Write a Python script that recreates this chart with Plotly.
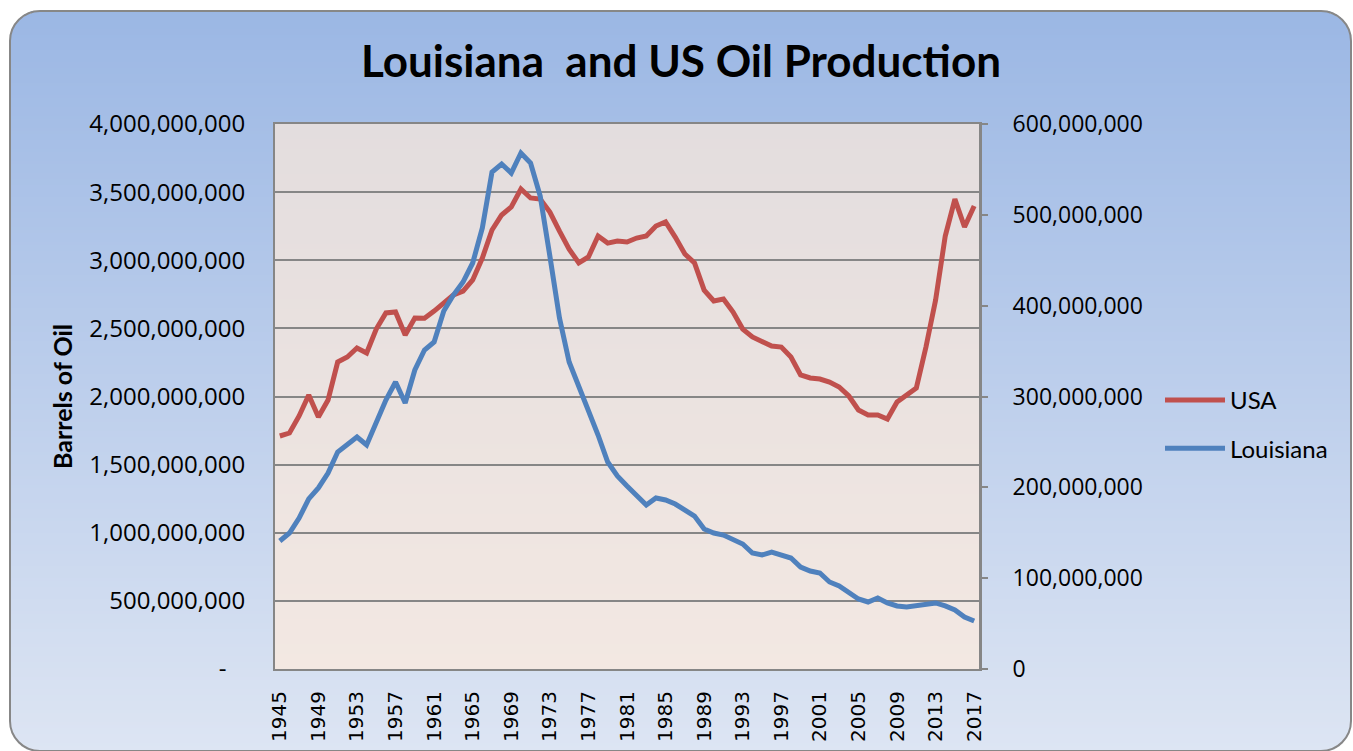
import plotly.graph_objects as go

# ---------------- data ----------------
years = list(range(1945, 2018))

usa_million_bbl = [
    1710, 1732, 1857, 2011, 1849, 1974, 2253, 2290, 2356, 2319,
    2495, 2613, 2620, 2451, 2576, 2575, 2627, 2686, 2745, 2774,
    2855, 3016, 3222, 3332, 3391, 3523, 3457, 3449, 3354, 3214,
    3082, 2980, 3024, 3178, 3126, 3141, 3134, 3163, 3178, 3251,
    3281, 3170, 3046, 2980, 2781, 2701, 2715, 2620, 2495, 2437,
    2400, 2370, 2363, 2290, 2158, 2136, 2128, 2106, 2070, 2004,
    1901, 1864, 1864, 1835, 1960, 2011, 2062, 2363, 2708, 3178,
    3449, 3244, 3398,
]

louisiana_million_bbl = [
    140.9, 149.7, 166.2, 187.2, 199.3, 215.8, 238.9, 247.7, 255.4, 246.6,
    271.9, 296.1, 316.0, 292.8, 329.2, 351.2, 360.0, 394.1, 411.7, 426.0,
    447.0, 485.5, 547.1, 556.0, 546.0, 568.1, 557.1, 520.7, 454.7, 386.4,
    338.0, 311.6, 284.0, 257.6, 227.9, 212.5, 201.5, 190.5, 180.5, 188.3,
    186.1, 181.6, 175.0, 168.4, 154.1, 149.7, 147.5, 143.1, 137.6, 127.7,
    125.5, 128.8, 125.5, 122.2, 112.3, 107.9, 105.7, 95.8, 91.4, 84.8,
    77.1, 73.8, 78.2, 72.7, 69.4, 68.3, 69.4, 71.6, 72.7, 69.4,
    65.0, 57.2, 52.8,
]

usa = [v * 1e6 for v in usa_million_bbl]
louisiana = [v * 1e6 for v in louisiana_million_bbl]

x_tick_years = list(range(1945, 2018, 4))

left_tickvals = [0, 5e8, 1e9, 1.5e9, 2e9, 2.5e9, 3e9, 3.5e9, 4e9]
left_ticktext = ["-\u00a0\u00a0\u00a0", "500,000,000", "1,000,000,000", "1,500,000,000",
                 "2,000,000,000", "2,500,000,000", "3,000,000,000",
                 "3,500,000,000", "4,000,000,000"]
right_tickvals = [0, 1e8, 2e8, 3e8, 4e8, 5e8, 6e8]
right_ticktext = ["0", "100,000,000", "200,000,000", "300,000,000",
                  "400,000,000", "500,000,000", "600,000,000"]

# ---------------- geometry / style ----------------
W, H = 1353, 751
L, R, T, B = 275, 374, 124, 82
PW, PH = W - L - R, H - T - B


def px(x):
    return (x - L) / PW


def py(y):
    return (H - B - y) / PH


def lerp(c1, c2, t):
    return "rgb(%d,%d,%d)" % tuple(round(a + (b - a) * t) for a, b in zip(c1, c2))


shapes = []

# chart-area gradient with rounded corners
bx0, bx1, by0, by1, rad = 10, 1351, 11, 751, 30
top_c, bot_c = (155, 183, 228), (221, 229, 243)
step = 3
y = by0
while y < by1:
    y2 = min(y + step, by1)
    ym = (y + y2) / 2
    inset = 0
    if ym < by0 + rad:
        d = by0 + rad - ym
        inset = rad - (rad ** 2 - d ** 2) ** 0.5
    elif ym > by1 - rad:
        d = ym - (by1 - rad)
        inset = rad - (rad ** 2 - d ** 2) ** 0.5
    t = (ym - by0) / (by1 - by0)
    shapes.append(dict(type="rect", xref="paper", yref="paper", layer="below",
                       x0=px(bx0 + inset), x1=px(bx1 - inset), y0=py(y), y1=py(y2 + 0.6),
                       fillcolor=lerp(top_c, bot_c, t), line=dict(width=0)))
    y = y2

# plot-area gradient
ptop, pbot = (227, 221, 222), (243, 232, 226)
y = T
while y < H - B:
    y2 = min(y + 5, H - B)
    t = ((y + y2) / 2 - T) / PH
    shapes.append(dict(type="rect", xref="paper", yref="paper", layer="below",
                       x0=0, x1=1, y0=py(y), y1=py(y2 + 0.6),
                       fillcolor=lerp(ptop, pbot, t), line=dict(width=0)))
    y = y2

# rounded outline
k = 0.45
path = (
    f"M {px(bx0 + rad)},{py(by0)} L {px(bx1 - rad)},{py(by0)} "
    f"C {px(bx1 - rad * k)},{py(by0)} {px(bx1)},{py(by0 + rad * k)} {px(bx1)},{py(by0 + rad)} "
    f"L {px(bx1)},{py(by1 - rad)} "
    f"C {px(bx1)},{py(by1 - rad * k)} {px(bx1 - rad * k)},{py(by1)} {px(bx1 - rad)},{py(by1)} "
    f"L {px(bx0 + rad)},{py(by1)} "
    f"C {px(bx0 + rad * k)},{py(by1)} {px(bx0)},{py(by1 - rad * k)} {px(bx0)},{py(by1 - rad)} "
    f"L {px(bx0)},{py(by0 + rad)} "
    f"C {px(bx0)},{py(by0 + rad * k)} {px(bx0 + rad * k)},{py(by0)} {px(bx0 + rad)},{py(by0)} Z"
)
shapes.append(dict(type="path", xref="paper", yref="paper", layer="above", path=path,
                   line=dict(color="rgb(135,135,135)", width=2)))

CAL = "Lato, 'Open Sans', sans-serif"
TICKF = "'Open Sans', 'Noto Sans', sans-serif"
GRAY = "rgb(134,134,134)"

fig = go.Figure()
fig.add_trace(go.Scatter(x=years, y=usa, name="USA", mode="lines",
                         line=dict(color="#C0504D", width=5), yaxis="y",
                         legendgroup="a"))
fig.add_trace(go.Scatter(x=years, y=louisiana, name="Louisiana", mode="lines",
                         line=dict(color="#4F81BD", width=5), yaxis="y2",
                         legendgroup="b"))

fig.update_layout(
    width=W, height=H,
    margin=dict(l=L, r=R, t=T, b=B, pad=0, autoexpand=False),
    paper_bgcolor="white",
    plot_bgcolor="rgba(0,0,0,0)",
    shapes=shapes,
    title=dict(text="<b>Louisiana  and US Oil Produc\u200ction</b>", xref="container",
               x=681 / W, xanchor="center",
               y=1 - 62 / H, yanchor="middle",
               font=dict(family=CAL, size=44, color="black")),
    xaxis=dict(range=[1944.5, 2017.5], tickvals=x_tick_years, tickangle=-90,
               tickfont=dict(family="DejaVu Sans", size=20, color="black"),
               showgrid=False, zeroline=False, showline=True, linecolor=GRAY,
               linewidth=2, mirror=True, ticks="", ticklabelstandoff=12,
               automargin=False),
    yaxis=dict(range=[0, 4e9], tickvals=left_tickvals, ticktext=left_ticktext,
               tickfont=dict(family=TICKF, size=24, color="black"),
               showgrid=True, gridcolor=GRAY, gridwidth=2, zeroline=False,
               showline=True, linecolor=GRAY, linewidth=2, ticks="",
               ticklabelstandoff=23, automargin=False,
               title=dict(text="<b>Barrels of Oil</b>", standoff=10,
                          font=dict(family=CAL, size=25, color="black"))),
    yaxis2=dict(range=[0, 6e8], tickvals=right_tickvals, ticktext=right_ticktext,
                overlaying="y", side="right",
                tickfont=dict(family=TICKF, size=23, color="black"),
                showgrid=False, zeroline=False, showline=True, linecolor=GRAY,
                linewidth=3, ticks="outside", ticklen=6, tickwidth=2, tickcolor=GRAY,
                ticklabelstandoff=20, automargin=False),
    showlegend=True,
    legend=dict(x=px(1160), xanchor="left", y=py(378), yanchor="top",
                bgcolor="rgba(0,0,0,0)", font=dict(family=CAL, size=24, color="black"),
                traceorder="grouped", tracegroupgap=14, itemwidth=60),
)

fig.write_html("out.html", config={"displayModeBar": False},
               post_script="document.body.style.margin='0';")
